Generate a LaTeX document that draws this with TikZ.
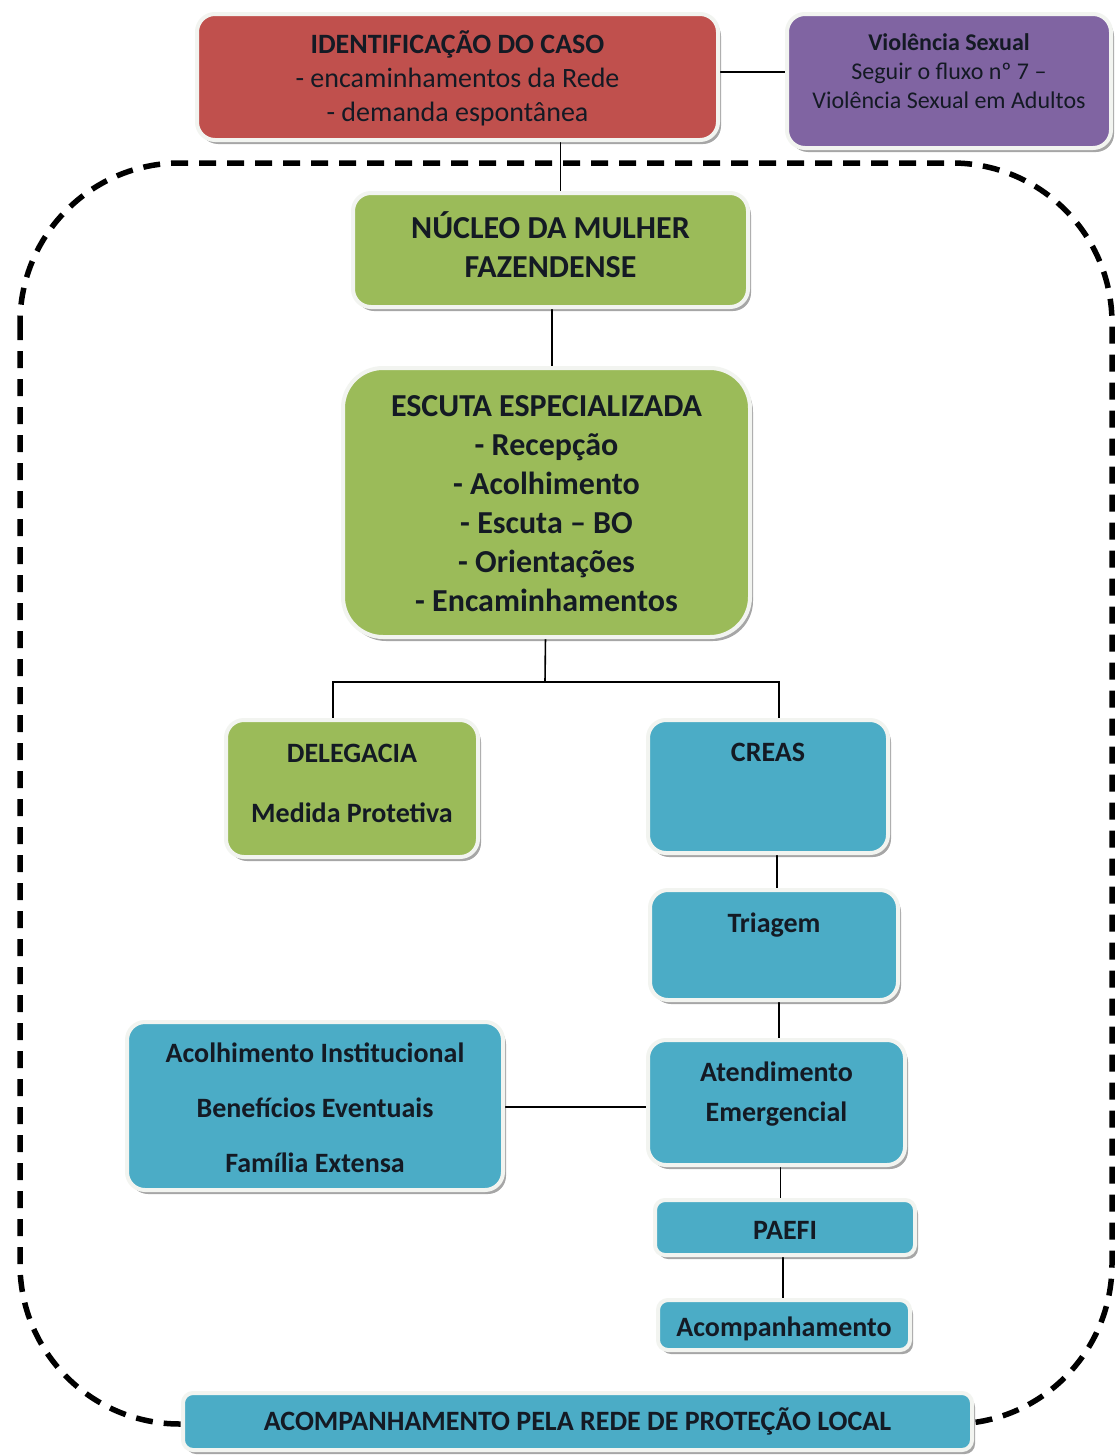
\documentclass[tikz,border=0pt]{standalone}
\usepackage{fontspec}
\setmainfont{Carlito}
\usetikzlibrary{shadows,backgrounds}

\definecolor{redbox}{HTML}{C0504D}
\definecolor{purplebox}{HTML}{8064A2}
\definecolor{greenbox}{HTML}{9BBB59}
\definecolor{bluebox}{HTML}{4BACC6}
\definecolor{ink}{HTML}{141A24}
\definecolor{rim}{HTML}{F2F4F0}

\tikzset{
  box/.style={rounded corners=18pt, draw=rim, line width=4pt, inner sep=0pt, outer sep=0pt,
    drop shadow={shadow xshift=3pt, shadow yshift=-4pt, fill=black, opacity=0.35}},
  boxtext/.style={text=ink, align=center, inner sep=0pt, font=\fontsize{28}{34}\selectfont\bfseries},
  bigtext/.style={boxtext, font=\fontsize{32}{39}\selectfont\bfseries},
  link/.style={draw=black, line width=1.6pt},
  frame/.style={draw=black, line width=5.5pt, dash pattern=on 17pt off 11pt, rounded corners=160pt},
}

% name, x1, y1, x2, y2, box options, vertical text offset, text options, text
\newcommand{\flowbox}[9]{%
  \node[box,#6,minimum width={(#4-#2)*1pt},minimum height={(#5-#3)*1pt}]
    (#1) at ({(#2+#4)/2},{(#3+#5)/2}) {};
  \node[boxtext,#8] (#1T) at ({(#2+#4)/2},{(#3+#5)/2+#7}) {#9};}

\begin{document}
\begin{tikzpicture}[x=1pt,y=-1pt]
\useasboundingbox (0,0) rectangle (1116,1456);

% boxes
\flowbox{ident}{197}{14}{718}{140}{fill=redbox}{1}{}{IDENTIFICAÇÃO DO CASO\\\mdseries - encaminhamentos da Rede\\\mdseries - demanda espontânea}
\flowbox{viol}{787}{14}{1111}{148}{fill=purplebox}{-10}{font=\fontsize{24}{29}\selectfont}{\textbf{Violência Sexual}\\Seguir o fluxo nº 7 –\\Violência Sexual em Adultos}
\flowbox{nucleo}{353}{193}{748}{307}{fill=greenbox}{-5}{bigtext}{NÚCLEO DA MULHER\\FAZENDENSE}
\flowbox{escuta}{343}{368}{750}{637}{fill=greenbox,rounded corners=40pt}{1}{bigtext}{ESCUTA ESPECIALIZADA\\- Recepção\\- Acolhimento\\- Escuta – BO\\- Orientações\\- Encaminhamentos}
\flowbox{deleg}{226}{720}{478}{857}{fill=greenbox}{-5}{}{DELEGACIA\\[26pt]Medida Protetiva}
\flowbox{creas}{648}{720}{888}{853}{fill=bluebox}{-34}{}{CREAS}
\flowbox{triag}{650}{890}{898}{1000}{fill=bluebox}{-20}{}{Triagem}
\flowbox{atend}{648}{1040}{905}{1165}{fill=bluebox}{-8}{font=\fontsize{28}{40}\selectfont\bfseries}{Atendimento\\Emergencial}
\flowbox{acol}{127}{1022}{503}{1190}{fill=bluebox}{2}{}{Acolhimento Institucional\\[21pt]Benefícios Eventuais\\[21pt]Família Extensa}
\flowbox{paefi}{655}{1200}{915}{1255}{fill=bluebox,rounded corners=10pt}{3}{}{PAEFI}
\flowbox{acomp}{658}{1300}{910}{1350}{fill=bluebox,rounded corners=10pt}{4}{}{Acompanhamento}
\flowbox{rede}{183}{1393}{972}{1450}{fill=bluebox,rounded corners=10pt}{0}{}{ACOMPANHAMENTO PELA REDE DE PROTEÇÃO LOCAL}

\begin{scope}[on background layer]
  \fill[white] (0,0) rectangle (1116,1456);
  % dashed boundary of the local network
  \draw[frame] (20,163) rectangle (1112,1424);
  % connectors
  \draw[link] (ident.east |- 0,72) -- (viol.west |- 0,72);
  \draw[link] ([xshift=10pt]nucleo.north) -- ([xshift=10pt]nucleo.north |- ident.south);
  \draw[link] ([xshift=1.5pt]nucleo.south) -- ([xshift=1.5pt]nucleo.south |- escuta.north);
  \coordinate (split) at (545,682);
  \draw[link] ([xshift=-1pt]escuta.south) -- (split);
  \draw[link] ([xshift=-19pt]deleg.north) |- (split) -| ([xshift=11pt]creas.north);
  \draw[link] ([xshift=9pt]creas.south) -- ([xshift=9pt]creas.south |- triag.north);
  \draw[link] ([xshift=5pt]triag.south) -- ([xshift=5pt]triag.south |- atend.north);
  \draw[link] (acol.east |- 0,1107) -- (atend.west |- 0,1107);
  \draw[link] ([xshift=4pt]atend.south) -- ([xshift=4pt]atend.south |- paefi.north);
  \draw[link] ([xshift=-2pt]paefi.south) -- ([xshift=-2pt]paefi.south |- acomp.north);
\end{scope}
\end{tikzpicture}
\end{document}
